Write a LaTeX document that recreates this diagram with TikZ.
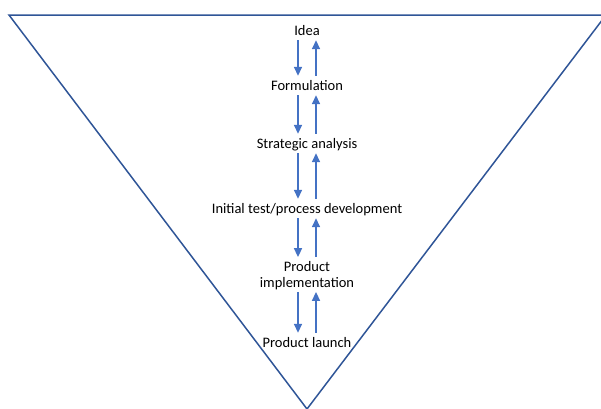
\documentclass[tikz,border=0pt]{standalone}
\usepackage{fontspec}
\setmainfont{Carlito}
\usetikzlibrary{arrows.meta, positioning}
\definecolor{funnelblue}{RGB}{47,85,151}
\definecolor{arrowblue}{RGB}{68,114,196}

\begin{document}
\begin{tikzpicture}[x=1pt, y=-1pt,
    stage/.style={inner sep=1pt, align=center, font=\fontsize{14.5}{16}\selectfont},
    onestage/.style={stage, text height=10pt, text depth=3pt},
    flow/.style={-{Triangle[length=9pt, width=8pt]}, arrowblue, line width=1.6pt},
    down/.style={flow, shorten <=1pt, shorten >=3pt},
    up/.style={flow, shorten <=3pt, shorten >=1pt}]
  \useasboundingbox (0,0) rectangle (601,408);

  % Funnel
  \draw[funnelblue, line width=1.5pt] (9,15) -- (606,15) -- (307,409) -- cycle;

  % Stages
  \node[onestage] (idea) at (307,31.5) {Idea};
  \node[onestage] (form) at (307,86.5) {Formulation};
  \node[onestage] (strat) at (307,144.5) {Strategic analysis};
  \node[onestage] (init) at (307,209.5) {Initial test/process development};
  \node[stage] (impl) at (307,275.5) {Product\\implementation};
  \node[onestage] (launch) at (307,343.5) {Product launch};

  % Arrows down and up
  \foreach \a/\b in {idea/form, form/strat, strat/init, init/impl, impl/launch} {
    \draw[down] ([xshift=-9pt]\a.south) -- ([xshift=-9pt]\b.north);
    \draw[up] ([xshift=9pt]\b.north) -- ([xshift=9pt]\a.south);
  }
\end{tikzpicture}
\end{document}
